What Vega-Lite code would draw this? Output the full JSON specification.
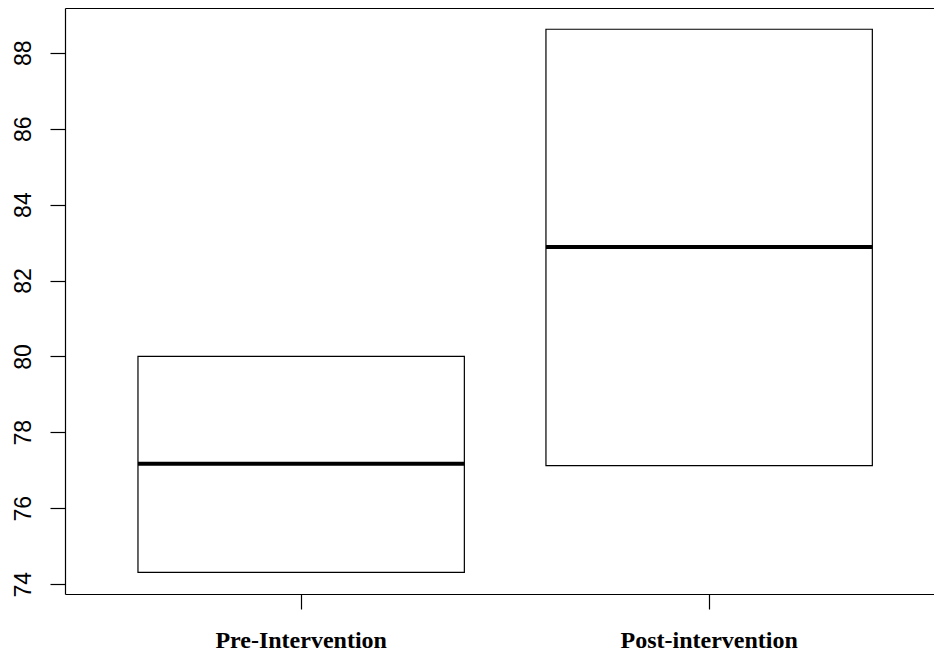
{
  "$schema": "https://vega.github.io/schema/vega-lite/v6.json",
  "width": 869,
  "height": 586,
  "autosize": {"type": "none"},
  "padding": {"left": 65, "top": 8, "right": 0, "bottom": 61},
  "background": "white",
  "config": {"view": {"stroke": null}},
  "data": {
    "values": [
      {"group": "Pre-Intervention", "q1": 74.31, "median": 77.17, "q3": 80.0},
      {"group": "Post-intervention", "q1": 77.12, "median": 82.88, "q3": 88.62}
    ]
  },
  "layer": [
    {
      "mark": {"type": "bar", "fill": "white", "stroke": "black", "strokeWidth": 1.2},
      "encoding": {
        "x": {
          "field": "group", "type": "nominal", "sort": null,
          "scale": {"domain": ["Pre-Intervention", "Post-intervention"], "range": [0, 869], "paddingInner": 0.2, "paddingOuter": 0.165, "align": 0.542},
          "axis": {"orient": "bottom", "title": null, "labelAngle": 0, "tickSize": 15, "tickColor": "black", "tickWidth": 1.2, "domainColor": "black", "domainWidth": 1.2, "labelFont": "Liberation Serif", "labelFontWeight": "bold", "labelFontSize": 24, "labelColor": "black", "labelBaseline": "alphabetic", "labelPadding": 38}
        },
        "y": {
          "field": "q1", "type": "quantitative",
          "scale": {"domain": [73.74, 89.18], "nice": false, "zero": false},
          "axis": {"title": null, "grid": false, "values": [74, 76, 78, 80, 82, 84, 86, 88], "tickSize": 15, "tickColor": "black", "tickWidth": 1.2, "domainColor": "black", "domainWidth": 1.2, "labelFont": "Liberation Sans", "labelFontSize": 23, "labelColor": "black", "labelAngle": -90, "labelAlign": "center", "labelBaseline": "alphabetic", "labelPadding": 20}
        },
        "y2": {"field": "q3"}
      }
    },
    {
      "mark": {"type": "bar", "fill": "black", "stroke": "black", "strokeWidth": 4},
      "encoding": {
        "x": {
          "field": "group", "type": "nominal", "sort": null,
          "axis": {"orient": "top", "title": null, "labels": false, "ticks": false, "domainColor": "black", "domainWidth": 1.2}
        },
        "y": {
          "field": "median", "type": "quantitative",
          "axis": {"title": null, "grid": false, "values": [74, 76, 78, 80, 82, 84, 86, 88], "tickSize": 15, "tickColor": "black", "tickWidth": 1.2, "domainColor": "black", "domainWidth": 1.2, "labelFont": "Liberation Sans", "labelFontSize": 23, "labelColor": "black", "labelAngle": -90, "labelAlign": "center", "labelBaseline": "alphabetic", "labelPadding": 20}
        },
        "y2": {"field": "median"}
      }
    }
  ],
  "resolve": {"axis": {"x": "independent"}}
}
